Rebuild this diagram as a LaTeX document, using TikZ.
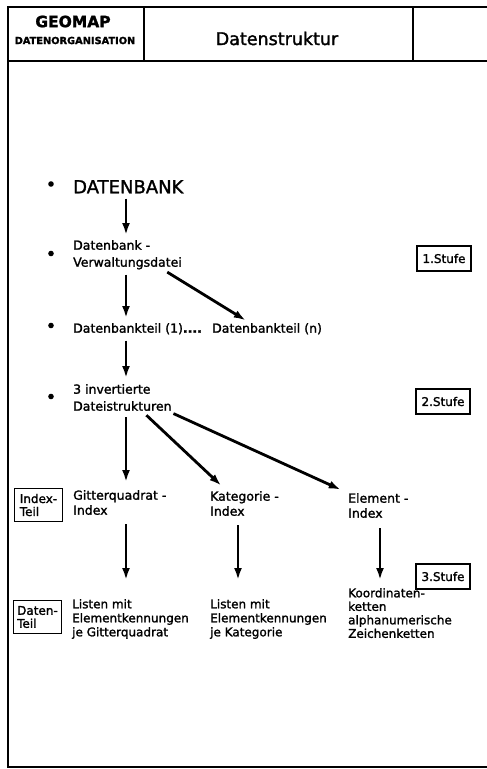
\documentclass[tikz,border=0pt]{standalone}
\usepackage{fontspec}
\setmainfont{DejaVu Sans}[FakeBold=1.6]
\usepackage{tikz}
\usetikzlibrary{arrows.meta}

\tikzset{
	lbl/.style={anchor=north west,inner sep=0pt,align=left,font=\fontsize{12.5}{17}\selectfont},
	lst/.style={lbl,font=\fontsize{12}{14}\selectfont},
	stufe/.style={rectangle,draw,line width=1.7pt,minimum width=54pt,minimum height=25pt,inner sep=1pt,font=\fontsize{12}{13}\selectfont},
	teil/.style={rectangle,draw,line width=1.7pt,minimum width=48pt,minimum height=33pt,inner sep=2pt,align=left,font=\fontsize{12}{13}\selectfont},
	flow/.style={line width=2.8pt,-{Latex[length=12pt,width=8pt]},shorten <=5pt,shorten >=5pt},
	frame/.style={line width=1.8pt},
}

\begin{document}
\begin{tikzpicture}[x=1pt,y=-1pt]
		\useasboundingbox (0,0) rectangle (487,769);
%		\draw[help lines,step=10] (0,0) grid (487,769);
		\path (126,0) coordinate (trunk);
		\path (163,0) coordinate (split);
		\path (250,0) coordinate (teiln);
		\path (142,0) coordinate (tokat);
		\path (168,0) coordinate (toel);
		\path (227,0) coordinate (katin);
		\path (348,0) coordinate (elin);
		\path (238,0) coordinate (katout);
		\path (380,0) coordinate (elout);

		\draw[frame] (487,7) -- (8,7) -- (8,767) -- (487,767);
		\draw[frame] (8,61) -- (487,61);
		\draw[frame] (144,7) -- (144,61) (413,7) -- (413,61);
		\path (73,21.5) node(geomap) [inner sep=0pt,font=\bfseries\fontsize{15.5}{16}\selectfont] {GEOMAP};
		\path (75,40.5) node(orga) [inner sep=0pt,font=\bfseries\fontsize{9.8}{10}\selectfont] {DATENORGANISATION};
		\path (277,38.5) node(title) [inner sep=0pt,font=\fontsize{17.5}{18}\selectfont] {Datenstruktur};

		\fill (51,184) circle (2.8);
		\fill (51,253.5) circle (2.8);
		\fill (51,325.5) circle (2.8);
		\fill (51,396.5) circle (2.8);

		\path (73,180) node(db) [lbl,font=\fontsize{18}{18}\selectfont] {DATENBANK};
		\path (73,240) node(dbv) [lbl] {Datenbank -\\Verwaltungsdatei};
		\path (73,323) node(teil1) [lbl] {Datenbankteil (1)\textbf{....}};
		\path (212,323) node(teiln_txt) [lbl] {Datenbankteil (n)};
		\path (73,384) node(inv) [lbl] {3 invertierte\\Dateistrukturen};
		\path (73,490) node(git) [lbl,font=\fontsize{12.5}{15}\selectfont] {Gitterquadrat -\\Index};
		\path (210,491) node(kat) [lbl,font=\fontsize{12.5}{15}\selectfont] {Kategorie -\\Index};
		\path (348,493) node(elem) [lbl,font=\fontsize{12.5}{15}\selectfont] {Element -\\Index};
		\path (72,599) node(lgit) [lst] {Listen mit\\Elementkennungen\\je Gitterquadrat};
		\path (210,599) node(lkat) [lst] {Listen mit\\Elementkennungen\\je Kategorie};
		\path (348,588) node(koord) [lst,font=\fontsize{12}{13.5}\selectfont] {Koordinaten-\\ketten\\alphanumerische\\Zeichenketten};

		\path (444,258.5) node(stufe1) [stufe] {1.Stufe};
		\path (443,401.5) node(stufe2) [stufe] {2.Stufe};
		\path (443,576.5) node(stufe3) [stufe] {3.Stufe};
		\path (38.5,505) node(indexteil) [teil] {Index-\\Teil};
		\path (37.5,617) node(datenteil) [teil] {Daten-\\Teil};

		\draw[flow] (db.south -| trunk) -- (dbv.north -| trunk);
		\draw[flow] (dbv.south -| trunk) -- (teil1.north -| trunk);
		\draw[flow] (dbv.south -| split) -- (teiln_txt.north -| teiln);
		\draw[flow,shorten <=6pt,shorten >=6pt] (teil1.south -| trunk) -- (inv.north -| trunk);
		\draw[flow,shorten <=6pt,shorten >=8pt] (inv.south -| trunk) -- (git.north -| trunk);
		\draw[flow,shorten <=6pt,shorten >=8pt] (inv.south -| tokat) -- (kat.north -| katin);
		\draw[flow,shorten <=6pt,shorten >=8pt] (inv.south -| toel) -- (elem.north -| elin);
		\draw[flow,shorten <=9pt,shorten >=19pt] (git.south -| trunk) -- (lgit.north -| trunk);
		\draw[flow,shorten <=9pt,shorten >=19pt] (kat.south -| katout) -- (lkat.north -| katout);
		\draw[flow,shorten <=10pt,shorten >=8pt] (elem.south -| elout) -- (koord.north -| elout);
	\end{tikzpicture}
\end{document}
